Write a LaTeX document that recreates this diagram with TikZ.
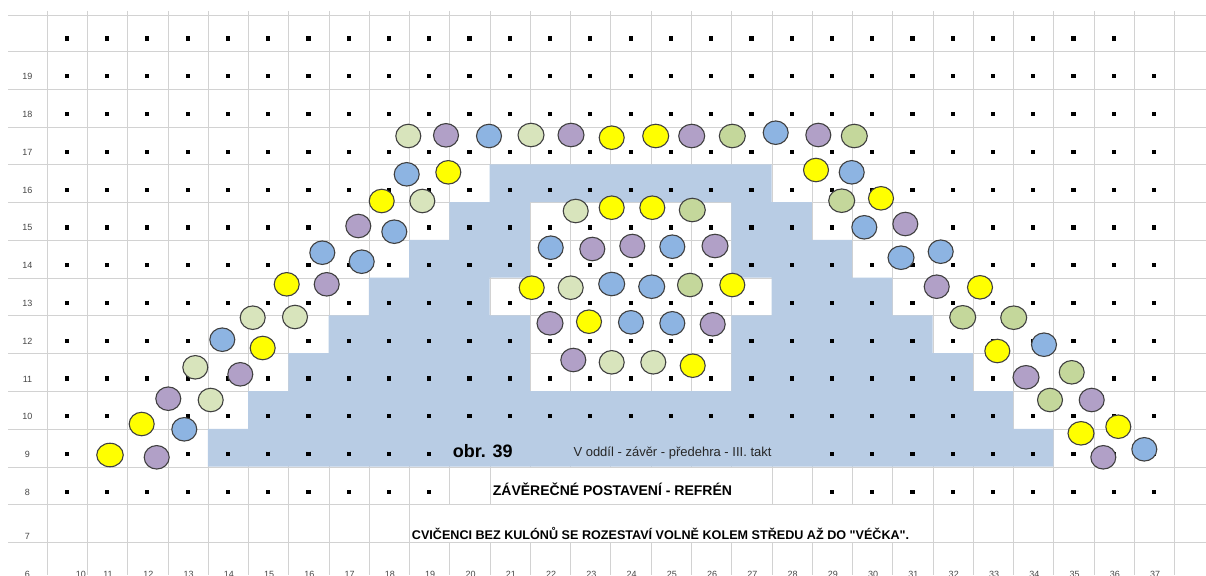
\documentclass[tikz,border=0pt]{standalone}
\usepackage{fontspec}
\setmainfont{Liberation Sans}[Ligatures=TeXOff]
\usetikzlibrary{shapes.geometric}
\definecolor{gridc}{RGB}{210,210,210}
\definecolor{fillblue}{RGB}{184,204,228}
\definecolor{cyel}{RGB}{255,255,0}
\definecolor{cpur}{RGB}{177,160,199}
\definecolor{cblu}{RGB}{141,180,226}
\definecolor{clgr}{RGB}{216,228,188}
\definecolor{cdgr}{RGB}{196,215,155}
\definecolor{cedge}{RGB}{64,64,64}
\definecolor{labc}{RGB}{70,70,70}
\begin{document}
\begin{tikzpicture}[x=1pt,y=-1pt,
  ball/.style={ellipse,draw=cedge,line width=1.1pt,minimum width=25pt,minimum height=23.5pt,inner sep=0pt},
  yel/.style={ball,fill=cyel}, pur/.style={ball,fill=cpur}, blu/.style={ball,fill=cblu},
  lgr/.style={ball,fill=clgr}, dgr/.style={ball,fill=cdgr},
  gridline/.style={draw=gridc,line width=1.4pt},
  rowlab/.style={font=\fontsize{9}{10}\selectfont,text=labc,anchor=base,inner sep=0pt},
  txt/.style={anchor=base west,inner sep=0pt}
]
\useasboundingbox (0,0) rectangle (1206,575);
\fill[white] (0,0) rectangle (1206,575);
% grid: horizontal
\draw[gridline] (8,15.5) -- (1206,15.5);
\foreach \j in {1,...,14} {\pgfmathsetmacro\yy{round(13.3+37.77*\j)+0.5}\draw[gridline] (8,\yy) -- (1206,\yy);}
% grid: vertical
\foreach \k in {10,...,38} {\pgfmathsetmacro\xx{round(46.7+(\k-10)*40.27)+0.5}
  \draw[gridline] (\xx,11) -- (\xx,466.54);
  \draw[gridline] (\xx,542.08) -- (\xx,575);}
\foreach \k in {10,...,21} {\pgfmathsetmacro\xx{round(46.7+(\k-10)*40.27)+0.5}\draw[gridline] (\xx,466.54) -- (\xx,504.31);}
\foreach \k in {28,...,38} {\pgfmathsetmacro\xx{round(46.7+(\k-10)*40.27)+0.5}\draw[gridline] (\xx,466.54) -- (\xx,504.31);}
\foreach \k in {10,...,19} {\pgfmathsetmacro\xx{round(46.7+(\k-10)*40.27)+0.5}\draw[gridline] (\xx,504.31) -- (\xx,542.08);}
\foreach \k in {32,...,38} {\pgfmathsetmacro\xx{round(46.7+(\k-10)*40.27)+0.5}\draw[gridline] (\xx,504.31) -- (\xx,542.08);}
% blue area
\fill[fillblue,even odd rule]
 (207.78,466.54) -- (1053.45,466.54) -- (1053.45,428.77) -- (1013.18,428.77) -- (1013.18,391) -- (972.91,391) -- (972.91,353.23) -- (932.64,353.23) -- (932.64,315.46) -- (892.37,315.46) -- (892.37,277.69) -- (852.1,277.69) -- (852.1,239.92) -- (811.83,239.92) -- (811.83,202.15) -- (771.56,202.15) -- (771.56,164.38) -- (489.67,164.38) -- (489.67,202.15) -- (449.4,202.15) -- (449.4,239.92) -- (409.13,239.92) -- (409.13,277.69) -- (368.86,277.69) -- (368.86,315.46) -- (328.59,315.46) -- (328.59,353.23) -- (288.32,353.23) -- (288.32,391) -- (248.05,391) -- (248.05,428.77) -- (207.78,428.77) -- cycle
 (529.94,202.15) -- (731.29,202.15) -- (731.29,277.69) -- (771.56,277.69) -- (771.56,315.46) -- (731.29,315.46) -- (731.29,391) -- (529.94,391) -- (529.94,315.46) -- (489.67,315.46) -- (489.67,277.69) -- (529.94,277.69) -- cycle;
% dots
\foreach \k in {10,...,36} {\pgfmathsetmacro\xx{66.83+(\k-10)*40.27}\fill (\xx-2.1,38.57-2.1) rectangle ++(4.2,4.2);}
\foreach \i in {1,...,10} {\pgfmathsetmacro\yy{0.8+37.77*(\i+1)}
  \foreach \k in {10,...,37} {\pgfmathsetmacro\xx{66.83+(\k-10)*40.27}\fill (\xx-2.1,\yy-2.1) rectangle ++(4.2,4.2);}}
\foreach \i in {11,12} {\pgfmathsetmacro\yy{0.8+37.77*(\i+1)}
  \foreach \k in {10,...,19} {\pgfmathsetmacro\xx{66.83+(\k-10)*40.27}\fill (\xx-2.1,\yy-2.1) rectangle ++(4.2,4.2);}
  \foreach \k in {29,...,37} {\pgfmathsetmacro\xx{66.83+(\k-10)*40.27}\fill (\xx-2.1,\yy-2.1) rectangle ++(4.2,4.2);}}
% row labels
\foreach \r [count=\i] in {19,18,...,8} {\pgfmathsetmacro\yy{13.3+37.77*(\i+1)-9}\node[rowlab] (rl\r) at (27.5,\yy) {\r};}
\node[rowlab] (rl7) at (27.5,539) {7};
\node[rowlab] (rl6) at (27.5,577) {6};
\node[rowlab] (cl10) at (80.8,577) {10};
\foreach \k in {11,...,37} {\pgfmathsetmacro\xx{67.8+(\k-10)*40.27}\node[rowlab] (cl\k) at (\xx,577) {\k};}
% texts
\node[txt,font=\bfseries\fontsize{18}{20}\selectfont] (obr) at (452.7,457.3) {obr. 39};
\node[txt,font=\fontsize{13}{14}\selectfont,text=black!85] (vodd) at (573.3,456.7) {V oddíl - závěr - předehra - III. takt};
\node[txt,font=\bfseries\fontsize{14}{16}\selectfont] (title) at (492.7,495) {ZÁVĚREČNÉ POSTAVENÍ - REFRÉN};
\node[txt,font=\bfseries\fontsize{12.6}{14}\selectfont] (note) at (411.7,539.3) {CVIČENCI BEZ KULÓNŮ SE ROZESTAVÍ VOLNĚ KOLEM STŘEDU AŽ DO "VÉČKA".};
% left arc
\node[lgr] (c1) at (408.3,136) {};
\node[pur] (c2) at (446,135.3) {};
\node[blu] (c3) at (489,136) {};
\node[blu] (c4) at (406.7,174.3) {};
\node[yel] (c5) at (448.3,172.3) {};
\node[yel] (c6) at (381.7,201) {};
\node[lgr] (c7) at (422.3,201) {};
\node[pur] (c8) at (358.3,226) {};
\node[blu] (c9) at (394.3,231.7) {};
\node[blu] (c10) at (322.3,252.7) {};
\node[blu] (c11) at (361.7,261.7) {};
\node[yel] (c12) at (286.7,284.3) {};
\node[pur] (c13) at (326.7,284.3) {};
\node[lgr] (c14) at (252.7,317.7) {};
\node[lgr] (c15) at (295,317) {};
\node[blu] (c16) at (222.3,339.7) {};
\node[yel] (c17) at (262.7,348) {};
\node[lgr] (c18) at (195.3,367.3) {};
\node[pur] (c19) at (240.3,374.3) {};
\node[pur] (c20) at (168.3,398.7) {};
\node[lgr] (c21) at (210.7,400) {};
\node[yel] (c22) at (141.7,424) {};
\node[blu] (c23) at (184.3,429.3) {};
\node[yel,minimum width=26.5pt] (c24) at (110,455) {};
\node[pur] (c25) at (156.7,457.3) {};
% top row
\node[lgr,minimum width=26pt] (c26) at (531,135) {};
\node[pur,minimum width=26pt] (c27) at (571,135) {};
\node[yel] (c28) at (611.7,137.7) {};
\node[yel,minimum width=26pt] (c29) at (655.7,136) {};
\node[pur,minimum width=26pt] (c30) at (691.7,136) {};
\node[dgr,minimum width=26pt] (c31) at (732.3,136) {};
\node[blu] (c32) at (775.7,132.7) {};
% right arc
\node[pur] (c33) at (818.3,135) {};
\node[dgr,minimum width=26pt] (c34) at (854.3,136) {};
\node[yel] (c35) at (816,170) {};
\node[blu] (c36) at (851.7,172.3) {};
\node[dgr,minimum width=26pt] (c37) at (841.7,200.7) {};
\node[yel] (c38) at (881,198.3) {};
\node[blu] (c39) at (864.3,227.3) {};
\node[pur] (c40) at (905.3,224) {};
\node[blu,minimum width=26pt] (c41) at (901,257.7) {};
\node[blu] (c42) at (940.7,251.7) {};
\node[pur] (c43) at (936.7,286.7) {};
\node[yel] (c44) at (980,287.3) {};
\node[dgr,minimum width=26pt] (c45) at (962.7,317.3) {};
\node[dgr,minimum width=26pt] (c46) at (1013.7,317.7) {};
\node[yel] (c47) at (997.3,351) {};
\node[blu] (c48) at (1044,344.7) {};
\node[pur,minimum width=26pt] (c49) at (1026,377.3) {};
\node[dgr] (c50) at (1071.7,372.3) {};
\node[dgr] (c51) at (1050,400) {};
\node[pur] (c52) at (1091.7,400) {};
\node[yel,minimum width=26pt] (c53) at (1081,433.3) {};
\node[yel] (c54) at (1118.3,426.7) {};
\node[pur] (c55) at (1103.3,457.3) {};
\node[blu] (c56) at (1144.3,449.3) {};
% inner group
\node[lgr] (c57) at (575.7,211) {};
\node[yel] (c58) at (611.7,207.7) {};
\node[yel] (c59) at (652.3,207.7) {};
\node[dgr,minimum width=26pt] (c60) at (692.3,210) {};
\node[blu] (c61) at (550.7,247.7) {};
\node[pur] (c62) at (592.3,249) {};
\node[pur] (c63) at (632.3,246) {};
\node[blu] (c64) at (672.3,246.7) {};
\node[pur,minimum width=26pt] (c65) at (715,246) {};
\node[yel] (c66) at (531.7,287.7) {};
\node[lgr] (c67) at (570.7,287.7) {};
\node[blu,minimum width=26pt] (c68) at (611.7,284) {};
\node[blu,minimum width=26pt] (c69) at (651.7,286.7) {};
\node[dgr] (c70) at (690,285) {};
\node[yel] (c71) at (732.3,285) {};
\node[pur,minimum width=26pt] (c72) at (550,323.3) {};
\node[yel] (c73) at (589,321.7) {};
\node[blu] (c74) at (631,322.3) {};
\node[blu] (c75) at (672.3,323.3) {};
\node[pur] (c76) at (712.7,324.3) {};
\node[pur] (c77) at (573.3,360) {};
\node[lgr] (c78) at (611.7,362.3) {};
\node[lgr] (c79) at (653.3,362.3) {};
\node[yel] (c80) at (692.7,365.7) {};
\end{tikzpicture}
\end{document}
